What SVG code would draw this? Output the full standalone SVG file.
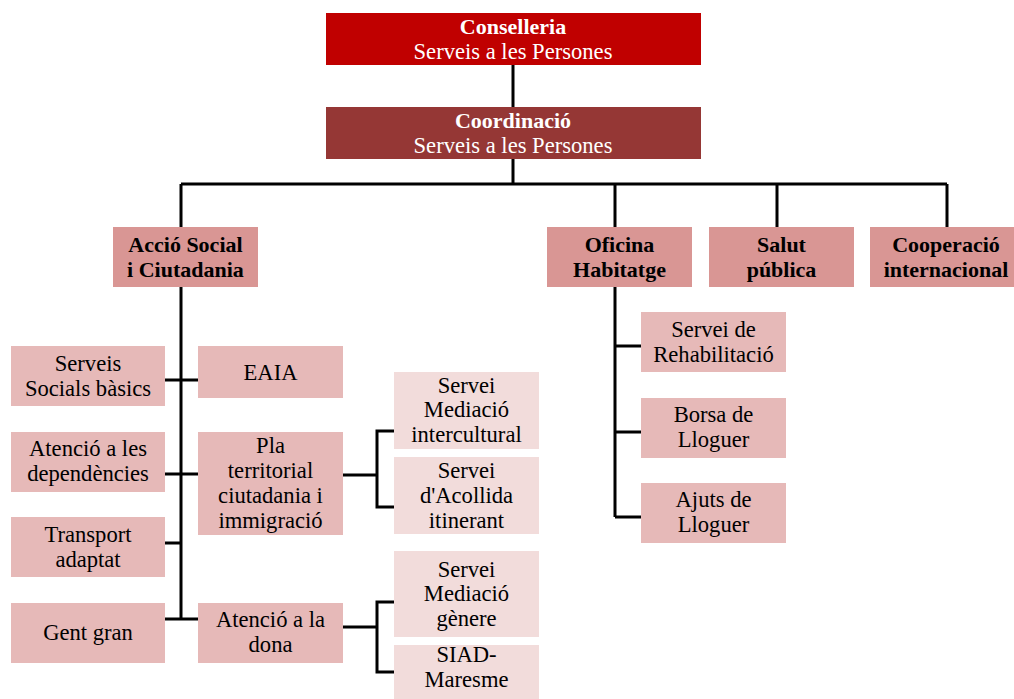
<svg xmlns="http://www.w3.org/2000/svg" width="1014" height="699" viewBox="0 0 1014 699">
<style>
text{font-family:"Liberation Serif","Times New Roman",serif;font-size:22.6px;text-anchor:middle;fill:#000}
.w{fill:#fff}
.b{font-weight:bold;font-size:22px}
.l1{fill:#C00000}.l1b{fill:#953735}.l2{fill:#D99694}.l3{fill:#E6B9B8}.l4{fill:#F2DCDB}
.c{fill:none;stroke:#000;stroke-width:3}
</style>
<rect width="1014" height="699" fill="#fff"/>
<g id="connectors" class="c">
<path d="M513,65V107M513,159V184M181,184H947M181,184V227M615,184V227M777,184V227M947,184V227"/>
<path d="M181,287V619M165,380H198M165,474H198M165,543H181M165,619H198"/>
<path d="M343,475H377M394,431H377V507H394"/>
<path d="M343,627H377M394,602H377V672H394"/>
<path d="M615,287V517M615,346H641M615,432H641M615,517H641"/>
</g>
<g id="conselleria"><rect class="l1" x="326" y="13" width="375" height="52"/><text class="w b" x="513" y="34">Conselleria</text><text class="w" x="513" y="59">Serveis a les Persones</text></g>
<g id="coordinacio"><rect class="l1b" x="326" y="107" width="375" height="52"/><text class="w b" x="513" y="128">Coordinació</text><text class="w" x="513" y="153">Serveis a les Persones</text></g>
<g id="accio"><rect class="l2" x="113" y="227" width="145" height="60"/><text class="b" x="185.5" y="252">Acció Social</text><text class="b" x="185.5" y="277">i Ciutadania</text></g>
<g id="oficina"><rect class="l2" x="547" y="227" width="145" height="60"/><text class="b" x="619.5" y="252">Oficina</text><text class="b" x="619.5" y="277">Habitatge</text></g>
<g id="salut"><rect class="l2" x="709" y="227" width="145" height="60"/><text class="b" x="781.5" y="252">Salut</text><text class="b" x="781.5" y="277">pública</text></g>
<g id="cooperacio"><rect class="l2" x="870" y="227" width="154" height="60"/><text class="b" x="946" y="252">Cooperació</text><text class="b" x="946" y="277">internacional</text></g>
<g id="serveis-socials"><rect class="l3" x="11" y="346" width="154" height="60"/><text x="88" y="371">Serveis</text><text x="88" y="396">Socials bàsics</text></g>
<g id="eaia"><rect class="l3" x="198" y="346" width="145" height="52"/><text x="270.5" y="380">EAIA</text></g>
<g id="dependencies"><rect class="l3" x="11" y="432" width="154" height="60"/><text x="88" y="456">Atenció a les</text><text x="88" y="481">dependències</text></g>
<g id="pla"><rect class="l3" x="198" y="432" width="145" height="103"/><text x="270.5" y="453">Pla</text><text x="270.5" y="478">territorial</text><text x="270.5" y="503">ciutadania i</text><text x="270.5" y="528">immigració</text></g>
<g id="transport"><rect class="l3" x="11" y="517" width="154" height="60"/><text x="88" y="542">Transport</text><text x="88" y="567">adaptat</text></g>
<g id="gent-gran"><rect class="l3" x="11" y="603" width="154" height="60"/><text x="88" y="640">Gent gran</text></g>
<g id="dona"><rect class="l3" x="198" y="603" width="145" height="60"/><text x="270.5" y="627">Atenció a la</text><text x="270.5" y="652">dona</text></g>
<g id="mediacio-intercultural"><rect class="l4" x="394" y="372" width="145" height="77"/><text x="466.5" y="393">Servei</text><text x="466.5" y="417">Mediació</text><text x="466.5" y="442">intercultural</text></g>
<g id="acollida"><rect class="l4" x="394" y="457" width="145" height="77"/><text x="466.5" y="478">Servei</text><text x="466.5" y="503">d'Acollida</text><text x="466.5" y="528">itinerant</text></g>
<g id="mediacio-genere"><rect class="l4" x="394" y="551" width="145" height="86"/><text x="466.5" y="577">Servei</text><text x="466.5" y="601">Mediació</text><text x="466.5" y="626">gènere</text></g>
<g id="siad"><rect class="l4" x="394" y="645" width="145" height="60"/><text x="466.5" y="662">SIAD-</text><text x="466.5" y="687">Maresme</text></g>
<g id="rehabilitacio"><rect class="l3" x="641" y="312" width="145" height="60"/><text x="713.5" y="337">Servei de</text><text x="713.5" y="362">Rehabilitació</text></g>
<g id="borsa"><rect class="l3" x="641" y="398" width="145" height="60"/><text x="713.5" y="422">Borsa de</text><text x="713.5" y="447">Lloguer</text></g>
<g id="ajuts"><rect class="l3" x="641" y="483" width="145" height="60"/><text x="713.5" y="507">Ajuts de</text><text x="713.5" y="532">Lloguer</text></g>
</svg>
